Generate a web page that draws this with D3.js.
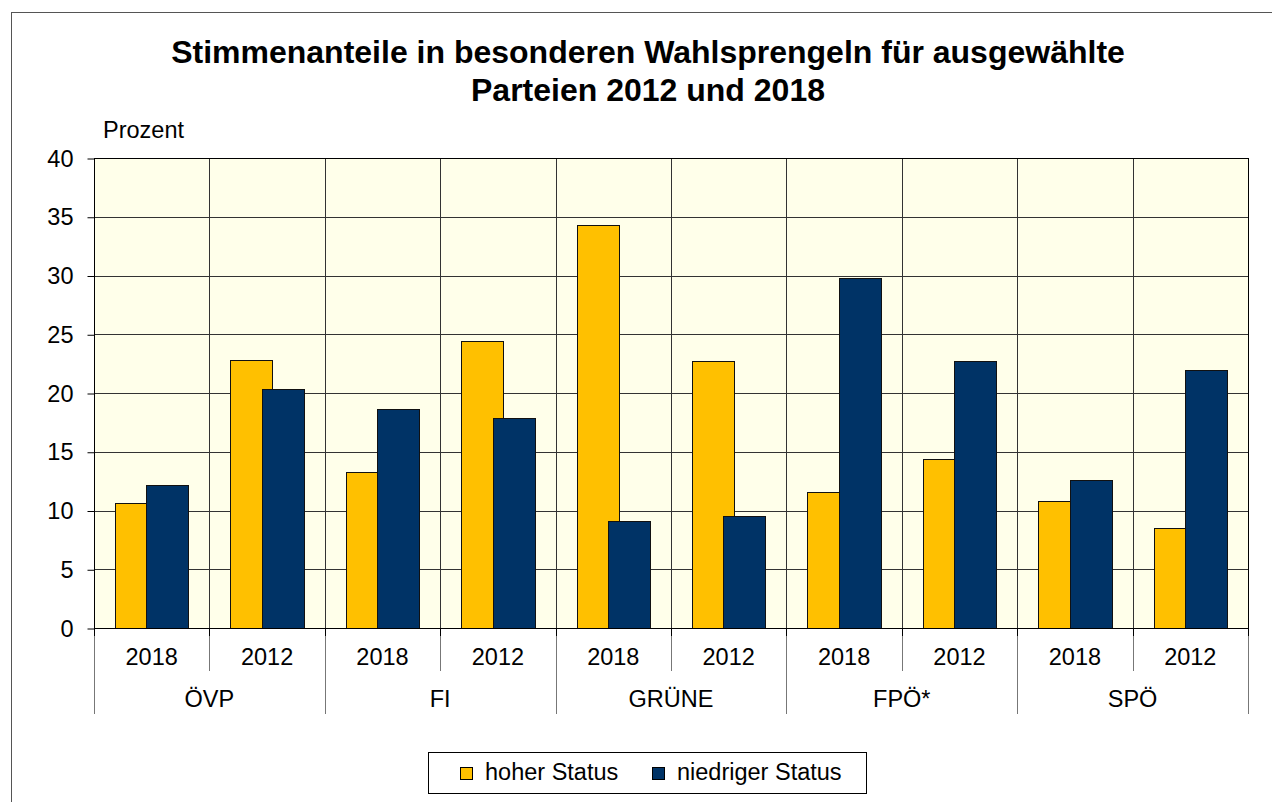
<!DOCTYPE html>
<html>
<head>
<meta charset="utf-8">
<script src="https://cdn.jsdelivr.net/npm/d3@7"></script>
<style>
  body { margin: 0; background: #fff; }
  svg { display: block; font-family: "Liberation Sans", Arial, sans-serif; }
</style>
</head>
<body>
<script>
const width = 1272;
const height = 802;

// data
const parties = ['ÖVP', 'FI', 'GRÜNE', 'FPÖ*', 'SPÖ'];
const years = ['2018', '2012'];
const hoher = [10.6, 22.8, 13.3, 24.4, 34.3, 22.7, 11.6, 14.4, 10.8, 8.5];
const niedrig = [12.2, 20.3, 18.6, 17.9, 9.1, 9.5, 29.8, 22.7, 12.6, 22.0];
const yTicks = [0, 5, 10, 15, 20, 25, 30, 35, 40];
const seriesNames = ['hoher Status', 'niedriger Status'];
const colors = ['#FFC000', '#003366'];

const fontSize = 23.5;
const plot = { left: 94, right: 1248, top: 158, bottom: 628 };

const cats = d3.range(parties.length * years.length);

const x = d3.scaleBand()
  .domain(cats)
  .range([plot.left, plot.right])
  .padding(0);

const y = d3.scaleLinear()
  .domain([0, 40])
  .range([plot.bottom, plot.top]);

const svg = d3.select('body')
  .append('svg')
  .attr('width', width)
  .attr('height', height);

// outer frame
svg.append('rect')
  .attr('x', 11.5)
  .attr('y', 12.5)
  .attr('width', 1300)
  .attr('height', 900)
  .attr('fill', 'none')
  .attr('stroke', '#555');

// title
const title = svg.append('text')
  .attr('text-anchor', 'middle')
  .attr('font-weight', 'bold')
  .attr('font-size', 32);
title.append('tspan').attr('x', 648).attr('y', 63)
  .text('Stimmenanteile in besonderen Wahlsprengeln für ausgewählte');
title.append('tspan').attr('x', 648).attr('y', 101)
  .text('Parteien 2012 und 2018');

svg.append('text')
  .attr('x', 103)
  .attr('y', 138)
  .attr('font-size', fontSize)
  .text('Prozent');

// plot background
svg.append('rect')
  .attr('x', plot.left)
  .attr('y', plot.top)
  .attr('width', plot.right - plot.left)
  .attr('height', plot.bottom - plot.top)
  .attr('fill', '#FFFFEA');

// gridlines
svg.append('g')
  .selectAll('line')
  .data(yTicks)
  .join('line')
  .attr('x1', plot.left)
  .attr('x2', plot.right)
  .attr('y1', d => Math.round(y(d)) + 0.5)
  .attr('y2', d => Math.round(y(d)) + 0.5)
  .attr('stroke', '#333');

svg.append('g')
  .selectAll('line')
  .data(cats.slice(1))
  .join('line')
  .attr('x1', d => Math.round(x(d)) + 0.5)
  .attr('x2', d => Math.round(x(d)) + 0.5)
  .attr('y1', plot.top)
  .attr('y2', plot.bottom)
  .attr('stroke', '#333');

// bars: overlap 25%, gap 100%
const bw = x.bandwidth() / 2.75;
const step = bw * 0.75;
const off = (x.bandwidth() - (bw + step)) / 2;

[hoher, niedrig].forEach((vals, s) => {
  svg.append('g')
    .selectAll('rect')
    .data(vals)
    .join('rect')
    .attr('x', (d, i) => Math.round(x(i) + off + s * step) + 0.5)
    .attr('y', d => Math.round(y(d)) + 0.5)
    .attr('width', Math.round(bw))
    .attr('height', d => Math.round(y(0)) - Math.round(y(d)))
    .attr('fill', colors[s])
    .attr('stroke', '#111');
});

// plot border
svg.append('rect')
  .attr('x', plot.left + 0.5)
  .attr('y', plot.top + 0.5)
  .attr('width', plot.right - plot.left)
  .attr('height', plot.bottom - plot.top)
  .attr('fill', 'none')
  .attr('stroke', '#000');

// y axis
const yAxis = svg.append('g')
  .attr('transform', `translate(${plot.left + 0.5},0.5)`)
  .call(d3.axisLeft(y).tickValues(yTicks).tickSize(7).tickPadding(14));
yAxis.select('.domain').remove();
yAxis.selectAll('.tick line').attr('stroke', '#000');
yAxis.selectAll('.tick text')
  .attr('font-size', fontSize)
  .attr('font-family', '"Liberation Sans", Arial, sans-serif')
  .attr('fill', '#000');

// category axis: years and parties
const bounds = cats.map(i => x(i)).concat([plot.right]);
svg.append('g')
  .selectAll('line')
  .data(bounds)
  .join('line')
  .attr('x1', d => Math.round(d) + 0.5)
  .attr('x2', d => Math.round(d) + 0.5)
  .attr('y1', plot.bottom)
  .attr('y2', (d, i) => i % 2 === 0 ? 714 : 671)
  .attr('stroke', '#777');

svg.append('g')
  .selectAll('line')
  .data(bounds)
  .join('line')
  .attr('x1', d => Math.round(d) + 0.5)
  .attr('x2', d => Math.round(d) + 0.5)
  .attr('y1', plot.bottom)
  .attr('y2', plot.bottom + 8)
  .attr('stroke', '#000');

svg.append('g')
  .selectAll('text')
  .data(cats)
  .join('text')
  .attr('x', d => x(d) + x.bandwidth() / 2)
  .attr('y', 665)
  .attr('text-anchor', 'middle')
  .attr('font-size', fontSize)
  .text(d => years[d % 2]);

svg.append('g')
  .selectAll('text')
  .data(parties)
  .join('text')
  .attr('x', (d, i) => x(i * 2) + x.bandwidth())
  .attr('y', 707)
  .attr('text-anchor', 'middle')
  .attr('font-size', fontSize)
  .text(d => d);

// legend
const legend = svg.append('g');
legend.append('rect')
  .attr('x', 428.5)
  .attr('y', 752.5)
  .attr('width', 438)
  .attr('height', 41)
  .attr('fill', '#fff')
  .attr('stroke', '#000');

const legendX = [460, 652];
seriesNames.forEach((name, s) => {
  legend.append('rect')
    .attr('x', legendX[s] + 0.5)
    .attr('y', 767.5)
    .attr('width', 12)
    .attr('height', 12)
    .attr('fill', colors[s])
    .attr('stroke', '#000');
  legend.append('text')
    .attr('x', legendX[s] + 25)
    .attr('y', 780)
    .attr('font-size', fontSize)
    .text(name);
});
</script>
</body>
</html>
